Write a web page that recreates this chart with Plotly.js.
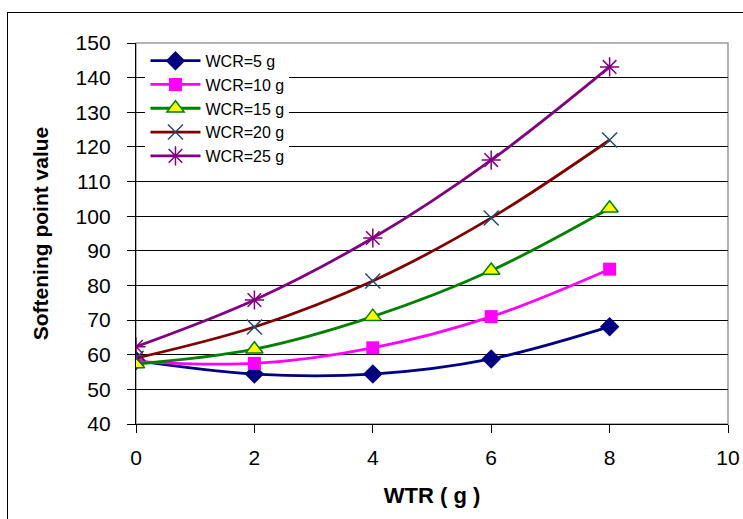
<!DOCTYPE html>
<html>
<head>
<meta charset="utf-8">
<script src="https://cdn.plot.ly/plotly-3.0.1.min.js"></script>
<style>
html,body{margin:0;padding:0;background:#fff;overflow:hidden;}
#frame{position:absolute;left:7px;top:12px;width:800px;height:600px;border:1.5px solid #000;}
#chart{position:absolute;left:0;top:0;width:743px;height:519px;}
</style>
</head>
<body>
<div id="frame"></div>
<div id="chart"></div>
<script>
const wtr = [0, 2, 4, 6, 8];
const seriesNames = ["WCR=5 g", "WCR=10 g", "WCR=15 g", "WCR=20 g", "WCR=25 g"];
const wcr5  = [58.3, 54.4, 54.4, 58.8, 68.1];
const wcr10 = [58.0, 57.5, 62.0, 71.0, 84.7];
const wcr15 = [57.3, 61.6, 71.0, 84.3, 102.3];
const wcr20 = [59.0, 68.0, 81.3, 99.5, 122.0];
const wcr25 = [62.3, 75.8, 93.7, 116.2, 143.1];
const xTicks = [0, 2, 4, 6, 8, 10];
const yTicks = [40, 50, 60, 70, 80, 90, 100, 110, 120, 130, 140, 150];

const styles = [
  {line:"#000080", marker:{symbol:"diamond", size:15, color:"#000080", line:{width:0}}},
  {line:"#FF00FF", marker:{symbol:"square", size:13, color:"#FF00FF", line:{width:0}}},
  {line:"#008000", marker:{symbol:"triangle-up", size:15, color:"#FFFF00", line:{width:1.5, color:"#008000"}}},
  {line:"#800000", marker:{symbol:"x-thin-open", size:15, color:"#1F4E79", line:{width:1.5, color:"#1F4E79"}}},
  {line:"#800080", marker:{symbol:"asterisk-open", size:16, color:"#800080", line:{width:1.5, color:"#800080"}}}
];
const allY = [wcr5, wcr10, wcr15, wcr20, wcr25];

const traces = allY.map((ys, i) => ({
  x: wtr, y: ys, name: seriesNames[i], type: "scatter", mode: "lines+markers",
  line: {color: styles[i].line, width: 2.8, shape: "spline", smoothing: 1},
  marker: styles[i].marker
}));

const layout = {
  width: 743, height: 519,
  margin: {l: 136, r: 15, t: 43, b: 95},
  paper_bgcolor: "rgba(0,0,0,0)",
  plot_bgcolor: "#ffffff",
  font: {family: "Liberation Sans, Arial, sans-serif", color: "#000"},
  showlegend: true,
  legend: {
    x: 0.016, y: 0.998, xanchor: "left", yanchor: "top",
    bgcolor: "#ffffff", borderwidth: 0,
    font: {size: 16, color: "#000"},
    tracegroupgap: 0, itemwidth: 50
  },
  xaxis: {
    range: [0, 10], tickvals: xTicks, ticktext: xTicks.map(String),
    showgrid: false, zeroline: false,
    showline: true, linecolor: "#000", linewidth: 1.2,
    ticks: "outside", ticklen: 8, tickcolor: "#000",
    tickfont: {size: 21}, ticklabelstandoff: 7,
    title: {text: "<b>WTR ( g )</b>", font: {size: 22}, standoff: 19}
  },
  yaxis: {
    range: [40, 150], tickvals: yTicks, ticktext: yTicks.map(String),
    showgrid: true, gridcolor: "#000", gridwidth: 1,
    zeroline: false,
    showline: true, linecolor: "#000", linewidth: 1.2,
    ticks: "outside", ticklen: 8, tickcolor: "#000",
    tickfont: {size: 21}, ticklabelstandoff: 12,
    title: {text: "<b>Softening point value</b>", font: {size: 21}, standoff: 21}
  },
  shapes: [
    {type: "rect", xref: "paper", yref: "paper", x0: 0, x1: 1, y0: 0, y1: 1,
     line: {color: "#999", width: 1.5}, fillcolor: "rgba(0,0,0,0)", layer: "below"}
  ]
};

Plotly.newPlot("chart", traces, layout, {displayModeBar: false, staticPlot: true});
</script>
</body>
</html>
